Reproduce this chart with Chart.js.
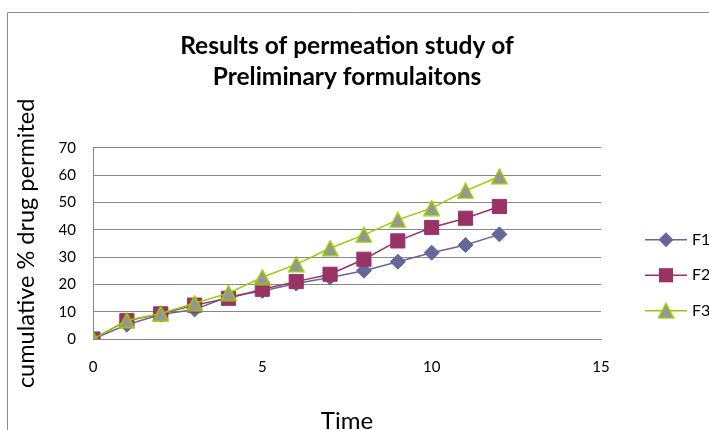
<!DOCTYPE html>
<html><head><meta charset="utf-8">
<script src="https://cdn.jsdelivr.net/npm/chart.js@4"></script>
<style>html,body{margin:0;padding:0;background:#fff;overflow:hidden}</style>
</head><body>
<canvas id="c" width="709" height="430"></canvas>
<script>
const timePoints = [0,1,2,3,4,5,6,7,8,9,10,11,12];
const f1Values = [0,5.2,9,10.8,15.5,17.6,20.3,22.5,25,28.3,31.6,34.4,38.3];
const f2Values = [0,6.7,9.2,12.4,14.9,18.2,21,23.7,29.2,35.9,40.8,44.2,48.5];
const f3Values = [0,6.8,9.3,13.1,16.8,22.6,27.3,33.2,38.1,43.6,47.9,54.2,59.5];
const seriesLabels = ['F1','F2','F3'];
const chartTitle = ['Results of permeation study of','Preliminary formulaitons'];
const xAxisTitle = 'Time';
const yAxisTitle = 'cumulative % drug permited';
const xTickValues = [0,5,10,15];
const yTickValues = [0,10,20,30,40,50,60,70];

const FONT = 'Lato';
const GRID = '#888888';

// triangle marker image (grey fill, yellow-green outline)
function makeTriangle(){
  const cv = document.createElement('canvas');
  cv.width = 17; cv.height = 17;
  const g = cv.getContext('2d');
  g.beginPath();
  g.moveTo(8.5,1.2); g.lineTo(16,15.8); g.lineTo(1,15.8); g.closePath();
  g.fillStyle = '#969696'; g.fill();
  g.strokeStyle = '#99CC00'; g.lineWidth = 1.5; g.stroke();
  return cv;
}
const triImg = makeTriangle();

function pts(vals){ return timePoints.map((t,i)=>({x:t,y:vals[i]})); }

const styles = [
  {color:'#666699', fill:'#666699', point:'rectRot', r:7.5, order:2},
  {color:'#993366', fill:'#993366', point:'rect', r:10, order:1},
  {color:'#99CC00', fill:'#969696', point:triImg, r:9, order:0}
];
const seriesValues = [f1Values, f2Values, f3Values];

const datasets = seriesLabels.map((lab,i)=>({
  label: lab,
  data: pts(seriesValues[i]),
  borderColor: styles[i].color,
  backgroundColor: styles[i].fill,
  borderWidth: 1.5,
  pointStyle: styles[i].point,
  pointRadius: styles[i].r,
  pointBackgroundColor: styles[i].fill,
  pointBorderColor: styles[i].fill,
  pointBorderWidth: 1,
  tension: 0,
  order: styles[i].order,
  showLine: true
}));

const framePlugin = {
  id: 'frame',
  beforeDraw(chart){
    const c = chart.ctx;
    c.save();
    c.fillStyle = '#fff';
    c.fillRect(0,0,chart.width,chart.height);
    c.strokeStyle = '#8a8a8a'; c.lineWidth = 1;
    c.beginPath();
    c.moveTo(7.5, chart.height); c.lineTo(7.5, 12.5); c.lineTo(chart.width, 12.5);
    c.stroke();
    c.restore();
  }
};

const legendPlugin = {
  id: 'sideLegend',
  afterDraw(chart){
    const c = chart.ctx;
    const a = chart.chartArea;
    const x0 = a.right + 44, x1 = a.right + 86, xm = (x0+x1)/2;
    c.save();
    chart.data.datasets.forEach((ds,i)=>{
      const y = a.top + 92 + i*35.5;
      c.strokeStyle = ds.borderColor; c.lineWidth = 1.5;
      c.beginPath(); c.moveTo(x0,y); c.lineTo(x1,y); c.stroke();
      c.fillStyle = ds.pointBackgroundColor;
      const r = ds.pointRadius;
      if (ds.pointStyle === 'rectRot'){
        c.beginPath(); c.moveTo(xm,y-r); c.lineTo(xm+r,y); c.lineTo(xm,y+r); c.lineTo(xm-r,y); c.closePath(); c.fill();
      } else if (ds.pointStyle === 'rect'){
        const s = r*Math.SQRT1_2;
        c.fillRect(xm-s,y-s,2*s,2*s);
      } else {
        c.drawImage(ds.pointStyle, xm-ds.pointStyle.width/2, y-ds.pointStyle.height/2);
      }
      c.fillStyle = '#000';
      c.font = '16px ' + FONT;
      c.textAlign = 'left'; c.textBaseline = 'middle';
      c.fillText(ds.label, x1+5, y);
    });
    c.restore();
  }
};

new Chart(document.getElementById('c'), {
  type: 'scatter',
  data: { datasets },
  plugins: [framePlugin, legendPlugin],
  options: {
    responsive: false,
    animation: false,
    devicePixelRatio: 1,
    layout: { padding: { left: 7, right: 108, top: 0, bottom: 0 } },
    plugins: {
      legend: { display: false },
      tooltip: { enabled: false },
      title: {
        display: true,
        text: chartTitle,
        fullSize: false,
        color: '#000',
        font: { family: FONT, size: 24.5, weight: 'bold', lineHeight: 1.25 },
        padding: { top: 31, bottom: 55.5 }
      }
    },
    scales: {
      x: {
        type: 'linear',
        min: 0, max: 15,
        afterBuildTicks(s){ s.ticks = xTickValues.map(v=>({value:v})); },
        afterFit(s){ s.height = 91; },
        grid: { display: false, drawTicks: false },
        border: { display: true, color: GRID, width: 1 },
        ticks: { color: '#000', font: { family: FONT, size: 15 }, padding: 19 },
        title: { display: true, text: xAxisTitle, color: '#000',
                 font: { family: FONT, size: 24, lineHeight: 0.75 }, padding: { top: 0, bottom: 0 } }
      },
      y: {
        type: 'linear',
        min: 0, max: 70,
        afterBuildTicks(s){ s.ticks = yTickValues.map(v=>({value:v})); },
        afterFit(s){ s.width = 86; },
        grid: { display: true, color: GRID, lineWidth: 1, drawTicks: false },
        border: { display: true, color: GRID, width: 1 },
        ticks: { color: '#000', font: { family: FONT, size: 15 }, padding: 17 },
        title: { display: true, text: yAxisTitle, color: '#000',
                 font: { family: FONT, size: 23.5, lineHeight: 1.2 }, padding: { top: 5, bottom: 0 } }
      }
    }
  }
});
</script>
</body></html>
